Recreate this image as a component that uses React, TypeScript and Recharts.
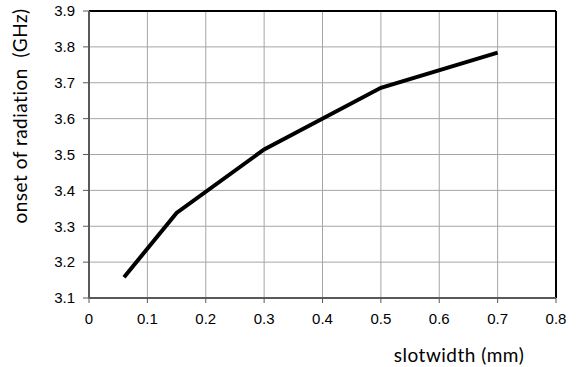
import React from "react";
import { LineChart, Line, XAxis, YAxis, CartesianGrid, ReferenceLine, Label } from "recharts";

const slotwidth = [0.06, 0.15, 0.3, 0.5, 0.7];
const onset = [3.158, 3.337, 3.514, 3.686, 3.784];
const xTicks = [0, 0.1, 0.2, 0.3, 0.4, 0.5, 0.6, 0.7, 0.8];
const yTicks = [3.1, 3.2, 3.3, 3.4, 3.5, 3.6, 3.7, 3.8, 3.9];
const xTitle = "slotwidth (mm)";
const yTitle = "onset of radiation\u00a0\u00a0(GHz)";

const data = slotwidth.map((x, i) => ({ x, y: onset[i] }));

const tickFont = { fontFamily: "Liberation Sans, Arial, sans-serif", fontSize: 15, fill: "#000" };
const titleFont = "Lato, 'Open Sans', sans-serif";

export default function App() {
  return (
    <div style={{ position: "absolute", left: 0, top: 0, width: 576, height: 367, background: "#fff" }}>
      <LineChart width={576} height={367} data={data} margin={{ top: 11, right: 20, left: 0, bottom: 0 }}>
        <CartesianGrid stroke="#a6a6a6" strokeWidth={1} />
        <XAxis
          dataKey="x"
          type="number"
          domain={[0, 0.8]}
          ticks={xTicks}
          interval={0}
          height={69}
          tick={tickFont}
          tickSize={5}
          tickMargin={10}
          tickFormatter={(v: number) => (v === 0 ? "0" : v.toFixed(1))}
          axisLine={{ stroke: "#595959", strokeWidth: 2 }}
          tickLine={{ stroke: "#595959", strokeWidth: 1 }}
        >
          <Label
            content={() => (
              <text x={459} y={362} textAnchor="middle" fontFamily={titleFont} fontSize={19} letterSpacing={0.5} fill="#000">
                {xTitle}
              </text>
            )}
          />
        </XAxis>
        <YAxis
          type="number"
          domain={[3.1, 3.9]}
          ticks={yTicks}
          interval={0}
          width={89}
          tick={tickFont}
          tickSize={6}
          tickMargin={8}
          tickFormatter={(v: number) => v.toFixed(1)}
          axisLine={{ stroke: "#595959", strokeWidth: 2 }}
          tickLine={{ stroke: "#595959", strokeWidth: 1 }}
        >
          <Label
            content={() => (
              <text
                transform="translate(27,116) rotate(-90)"
                textAnchor="middle"
                fontFamily={titleFont}
                fontSize={19}
                letterSpacing={0.5}
                fill="#000"
              >
                {yTitle}
              </text>
            )}
          />
        </YAxis>
        <ReferenceLine y={3.9} stroke="#000" strokeWidth={2} />
        <ReferenceLine x={0.8} stroke="#000" strokeWidth={2} />
        <Line
          type="linear"
          dataKey="y"
          stroke="#000"
          strokeWidth={4}
          dot={false}
          isAnimationActive={false}
        />
      </LineChart>
    </div>
  );
}
